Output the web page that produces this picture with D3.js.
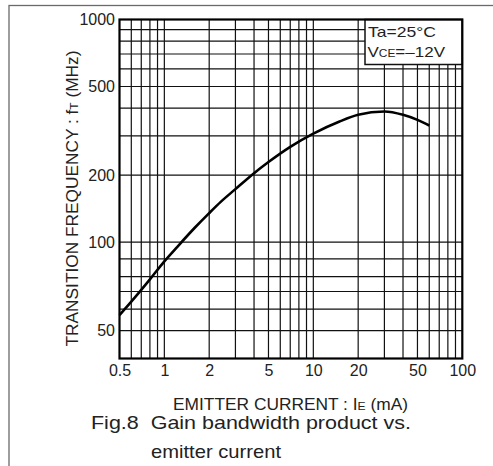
<!DOCTYPE html>
<html>
<head>
<meta charset="utf-8">
<script src="https://d3js.org/d3.v7.min.js"></script>
<style>
  html, body { margin: 0; padding: 0; background: #fff; }
  svg { display: block; font-family: "Liberation Sans", Arial, sans-serif; }
</style>
</head>
<body>
<svg id="chart" width="493" height="466"></svg>
<script>
// emitter current (mA) and transition frequency (MHz)
var currentIE = [0.5, 0.6, 0.7, 0.8, 1, 1.2, 1.6, 2, 2.4, 3, 4, 5, 7, 10, 15, 20, 30, 40, 50, 60];
var freqFT = [47, 54, 61, 68, 82, 94, 116, 135, 152, 173, 204, 229, 268, 307, 348, 373, 386, 373, 354, 334];

var xTickValues = [0.5, 1, 2, 5, 10, 20, 50, 100];
var xTickLabels = ["0.5", "1", "2", "5", "10", "20", "50", "100"];
var xGridValues = [0.6, 0.7, 0.8, 0.9, 1, 2, 3, 4, 5, 6, 7, 8, 9, 10, 20, 30, 40, 50, 60, 70, 80, 90];

// the sheet prints "50" on the 40 line and has one odd line under 100
var yTickValues = [1000, 500, 200, 100, 40];
var yTickLabels = ["1000", "500", "200", "100", "50"];
var yGridValues = [900, 800, 700, 600, 500, 400, 300, 200, 100, 84, 70, 60, 50, 40];

var svg = d3.select("#chart");
var pLeft = 119.5, pRight = 462.3, pTop = 19.5, pBottom = 358.5;

var x = d3.scaleLog().domain([0.5, 100]).range([pLeft, pRight]);
var y = d3.scaleLog().domain([30, 1000]).range([pBottom, pTop]);

//outer frame of the figure
svg.append("rect")
    .attr("x", 9).attr("y", 5.5)
    .attr("width", 600).attr("height", 600)
    .attr("fill", "none")
    .attr("stroke", "#6a6a6a")
    .attr("stroke-width", 1.3);

var grid = svg.append("g").attr("class", "grid");
grid.selectAll(".vline").data(xGridValues).enter().append("line")
    .attr("class", "vline")
    .attr("x1", function(d) { return x(d); })
    .attr("x2", function(d) { return x(d); })
    .attr("y1", pTop).attr("y2", pBottom)
    .attr("stroke", "#111").attr("stroke-width", 1.2);
grid.selectAll(".hline").data(yGridValues).enter().append("line")
    .attr("class", "hline")
    .attr("y1", function(d) { return y(d); })
    .attr("y2", function(d) { return y(d); })
    .attr("x1", pLeft).attr("x2", pRight)
    .attr("stroke", "#111").attr("stroke-width", 1.2);

// legend box sits over the grid
var legend = svg.append("g");
legend.append("rect")
    .attr("x", 365).attr("y", pTop)
    .attr("width", pRight - 365).attr("height", 64.5 - pTop)
    .attr("fill", "#fff")
    .attr("stroke", "#111").attr("stroke-width", 1.5);
legend.append("text")
    .attr("x", 368).attr("y", 37.3)
    .attr("font-size", 15).attr("fill", "#222")
    .attr("textLength", 68).attr("lengthAdjust", "spacingAndGlyphs")
    .text("Ta=25°C");
var vce = legend.append("text")
    .attr("x", 367.5).attr("y", 57.3)
    .attr("font-size", 15).attr("fill", "#222")
    .attr("textLength", 77.5).attr("lengthAdjust", "spacingAndGlyphs");
vce.append("tspan").text("V");
vce.append("tspan").attr("font-size", 10.5).text("CE");
vce.append("tspan").text("=–12V");

// plot frame
svg.append("rect")
    .attr("x", pLeft).attr("y", pTop)
    .attr("width", pRight - pLeft).attr("height", pBottom - pTop)
    .attr("fill", "none")
    .attr("stroke", "#000").attr("stroke-width", 2.2);

var line = d3.line()
    .x(function(d, i) { return x(currentIE[i]); })
    .y(function(d) { return y(d); })
    .curve(d3.curveMonotoneX);
svg.append("path")
    .datum(freqFT)
    .attr("d", line)
    .attr("fill", "none")
    .attr("stroke", "#000")
    .attr("stroke-width", 2.6);

var xaxis = svg.append("g")
    .attr("transform", "translate(0," + pBottom + ")")
    .call(d3.axisBottom(x).tickValues(xTickValues)
        .tickFormat(function(d, i) { return xTickLabels[i]; })
        .tickSize(0).tickPadding(6.5));
var yaxis = svg.append("g")
    .attr("transform", "translate(" + pLeft + ",0)")
    .call(d3.axisLeft(y).tickValues(yTickValues)
        .tickFormat(function(d, i) { return yTickLabels[i]; })
        .tickSize(0).tickPadding(4.5));
svg.selectAll(".domain").remove();
svg.selectAll(".tick text")
    .attr("font-family", "Liberation Sans, Arial, sans-serif")
    .attr("font-size", 16)
    .attr("fill", "#222");

// axis titles
var ytitle = svg.append("text")
    .attr("transform", "translate(77.5,198.5) rotate(-90)")
    .attr("text-anchor", "middle")
    .attr("font-size", 16).attr("fill", "#222")
    .attr("textLength", 296).attr("lengthAdjust", "spacingAndGlyphs");
ytitle.append("tspan").text("TRANSITION FREQUENCY : f");
ytitle.append("tspan").attr("font-size", 11).text("T");
ytitle.append("tspan").text(" (MHz)");

var xtitle = svg.append("text")
    .attr("x", 173).attr("y", 409.5)
    .attr("font-size", 16.5).attr("fill", "#222")
    .attr("textLength", 235).attr("lengthAdjust", "spacingAndGlyphs");
xtitle.append("tspan").text("EMITTER CURRENT : I");
xtitle.append("tspan").attr("font-size", 11.5).text("E");
xtitle.append("tspan").text(" (mA)");

svg.append("text")
    .attr("x", 91).attr("y", 428.5)
    .style("white-space", "pre")
    .attr("font-size", 18.5).attr("fill", "#222")
    .attr("textLength", 320).attr("lengthAdjust", "spacingAndGlyphs")
    .text("Fig.8  Gain bandwidth product vs.");
svg.append("text")
    .attr("x", 151).attr("y", 457.5)
    .attr("font-size", 18.5).attr("fill", "#222")
    .attr("textLength", 130).attr("lengthAdjust", "spacingAndGlyphs")
    .text("emitter current");
</script>
</body>
</html>
